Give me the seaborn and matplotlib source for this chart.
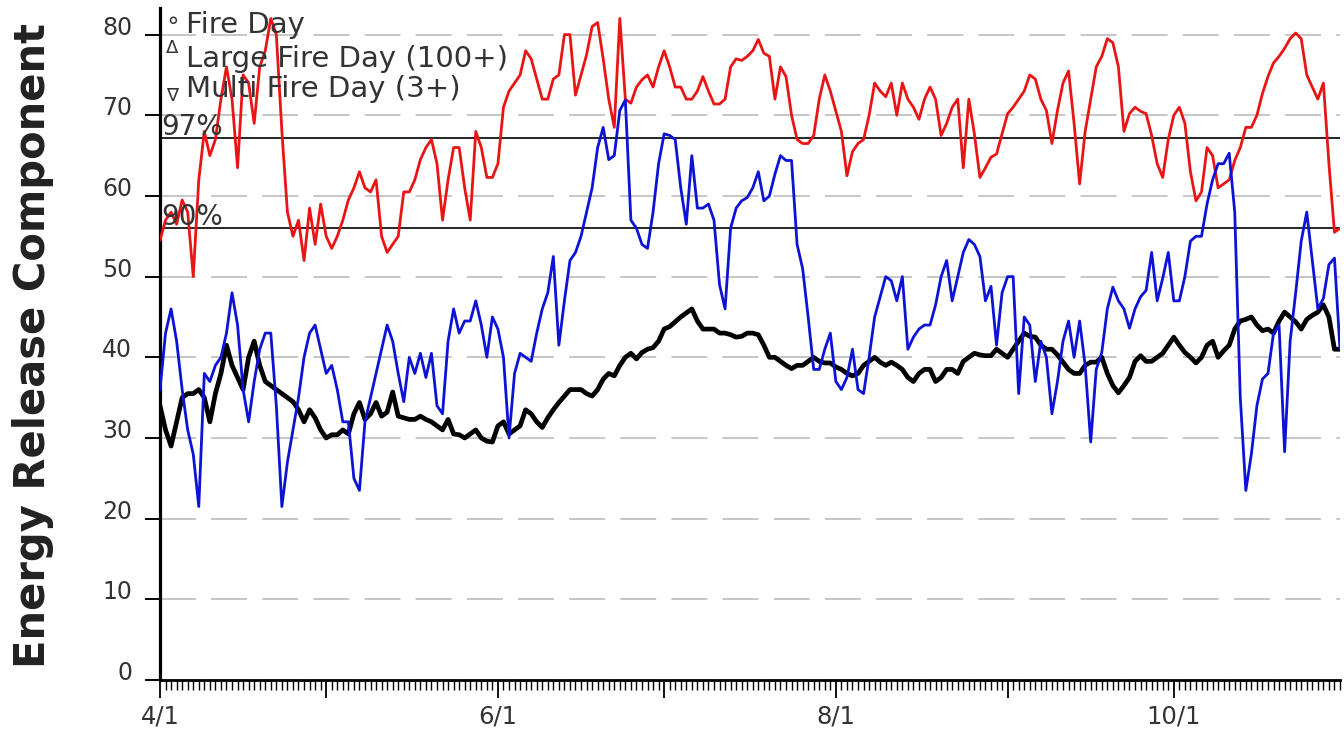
import numpy as np
import pandas as pd
import matplotlib
matplotlib.use("Agg")
import matplotlib.pyplot as plt
import matplotlib.dates as mdates
from matplotlib.ticker import FuncFormatter
import seaborn as sns

# ---------------- data ----------------
start_date = "2013-04-01"
end_date = "2013-10-31"

erc_max = [
    54.5, 57, 58, 56.5, 59.5, 58, 50, 62, 68, 65,
    67, 72, 76, 72, 63.5, 75, 74, 69, 76, 78,
    82, 80, 68, 58, 55, 57, 52, 58.5, 54, 59,
    55, 53.5, 55, 57, 59.5, 61, 63, 61, 60.5, 62,
    55, 53, 54, 55, 60.5, 60.5, 62, 64.5, 66, 67,
    64, 57, 62, 66, 66, 61, 57, 68, 66, 62.3,
    62.3, 64, 71, 73, 74, 75, 78, 77, 74.5, 72,
    72, 74.5, 75, 80, 80, 72.5, 75, 77.5, 81, 81.5,
    77, 72, 68.5, 82, 72, 71.5, 73.5, 74.4, 75, 73.5,
    76, 78, 76, 73.5, 73.5, 72, 72, 73, 74.8, 73,
    71.4, 71.4, 72, 76, 77, 76.8, 77.3, 78, 79.4, 77.7,
    77.3, 72, 76, 74.8, 70, 67, 66.5, 66.5, 67.5, 72,
    75, 73, 70.5, 68, 62.5, 65.5, 66.5, 67, 70, 74,
    73, 72.3, 74, 70, 74, 72, 71, 69.5, 72, 73.5,
    72, 67.5, 69, 71, 72, 63.5, 72, 67.7, 62.3, 63.5,
    64.8, 65.2, 67.7, 70.2, 71, 72, 73, 75, 74.5, 72,
    70.6, 66.5, 70.6, 74, 75.5, 69, 61.5, 68, 72, 76,
    77.3, 79.5, 79, 76, 68, 70.2, 71, 70.5, 70.2, 67.5,
    64, 62.3, 67, 70, 71, 69, 63, 59.4, 60.5, 66,
    65, 61, 61.5, 62, 64.4, 66, 68.5, 68.5, 70, 72.7,
    74.8, 76.5, 77.3, 78.3, 79.5, 80.2, 79.5, 75, 73.5, 72,
    74, 64, 55.5, 56,
]

erc_year = [
    36, 43, 46, 42, 36, 31, 28, 21.5, 38, 37,
    39, 40, 43, 48, 44, 36, 32, 37, 41, 43,
    43, 34, 21.5, 27, 31, 35, 40, 43, 44, 41,
    38, 39, 36, 32, 32, 25, 23.5, 32, 35, 38,
    41, 44, 42, 38, 34.5, 40, 38, 40.5, 37.5, 40.5,
    34, 33, 42, 46, 43, 44.5, 44.5, 47, 44, 40,
    45, 43.5, 40, 30, 38, 40.5, 40, 39.5, 43, 46,
    48, 52.5, 41.5, 47, 52, 53, 55, 58, 61, 66,
    68.5, 64.5, 65, 70.6, 71.9, 57, 56, 54, 53.5, 58,
    64, 67.7, 67.5, 67, 61, 56.5, 65, 58.5, 58.5, 59,
    57, 49, 46, 56, 58.5, 59.4, 59.8, 61, 63, 59.4,
    60, 62.7, 65, 64.4, 64.4, 54, 51, 45, 38.5, 38.5,
    41, 43, 37, 36, 37.5, 41, 36, 35.5, 40, 45,
    47.5, 50, 49.5, 47, 50, 41, 42.5, 43.5, 44, 44,
    46.5, 50, 52, 47, 50, 53, 54.6, 54, 52.5, 47,
    48.8, 41.5, 48, 50, 50, 35.5, 45, 44, 37, 42,
    40, 33, 37, 42, 44.5, 40, 44.5, 39, 29.5, 38.5,
    40.6, 46, 48.7, 47, 46, 43.6, 46, 47.5, 48.3, 53,
    47, 49.8, 53, 47, 47, 50, 54.4, 55, 55, 59,
    62, 64, 64, 65.3, 58, 35, 23.5, 28, 34, 37.3,
    38, 43, 44, 28.3, 42, 48, 54.4, 58, 52, 46,
    47.3, 51.5, 52.3, 41,
]

erc_avg = [
    34, 31, 29, 32, 35, 35.5, 35.5, 36, 35, 32,
    35.5, 38, 41.5, 39, 37.5, 36, 40, 42, 39, 37,
    36.5, 36, 35.5, 35, 34.5, 33.5, 32, 33.5, 32.5, 31,
    30, 30.4, 30.4, 31, 30.5, 33, 34.4, 32.3, 33, 34.4,
    32.7, 33.2, 35.7, 32.7, 32.5, 32.3, 32.3, 32.7, 32.3, 32,
    31.5, 31, 32.3, 30.5, 30.4, 30, 30.5, 31, 30, 29.6,
    29.5, 31.5, 32, 30.5, 31, 31.5, 33.5, 33, 32, 31.3,
    32.5, 33.5, 34.4, 35.2, 36, 36, 36, 35.5, 35.2, 36,
    37.3, 38, 37.7, 39, 40, 40.5, 39.8, 40.6, 41, 41.2,
    42, 43.5, 43.8, 44.4, 45, 45.5, 46, 44.5, 43.5, 43.5,
    43.5, 43, 43, 42.8, 42.5, 42.6, 43, 43, 42.8, 41.5,
    40, 40, 39.5, 39, 38.6, 39, 39, 39.5, 40, 39.5,
    39.3, 39.3, 38.8, 38.5, 38, 37.7, 38, 39, 39.5, 40,
    39.4, 39, 39.4, 39, 38.5, 37.5, 37, 38, 38.5, 38.5,
    37, 37.5, 38.5, 38.5, 38, 39.5, 40, 40.5, 40.3, 40.2,
    40.2, 41, 40.5, 40, 41, 42, 43, 42.6, 42.5, 41.5,
    41, 41, 40.3, 39.4, 38.5, 38, 38, 39, 39.4, 39.4,
    40, 38, 36.5, 35.6, 36.5, 37.5, 39.5, 40.2, 39.5, 39.5,
    40, 40.5, 41.5, 42.5, 41.5, 40.6, 40, 39.3, 40, 41.5,
    42, 40, 40.8, 41.5, 43.5, 44.5, 44.7, 45, 44, 43.3,
    43.5, 43, 44.5, 45.6, 45, 44.4, 43.5, 44.7, 45.2, 45.6,
    46.5, 45, 41, 41,
]

pct_values = [67.2, 56.0]
pct_labels = ["97%", "90%"]
y_ticks = [0, 10, 20, 30, 40, 50, 60, 70, 80]
labelled_months = {4: "4/1", 6: "6/1", 8: "8/1", 10: "10/1"}
legend_symbols = ["\u2218", "\u0394", "\u2207"]
legend_texts = ["Fire Day", "Large Fire Day (100+)", "Multi Fire Day (3+)"]
ylabel_text = "Energy Release Component"

# ---------------- figure ----------------
dates = pd.date_range(start_date, end_date, freq="D")
assert len(dates) == len(erc_max) == len(erc_year) == len(erc_avg)
df = pd.DataFrame({"date": dates, "max": erc_max, "year": erc_year, "avg": erc_avg})

sns.set_style("white")
plt.rcParams["font.family"] = ["DejaVu Sans"]

W, H = 1344, 732
fig = plt.figure(figsize=(W / 100, H / 100), dpi=100)
fig.patch.set_facecolor("white")
ax = fig.add_axes([160 / W, (H - 680) / H, 1180 / W, 672 / H])
ax.set_facecolor("white")

def fx(x):
    return x / W

def fy(y):
    return 1 - y / H

ax.set_axisbelow(True)
ax.yaxis.grid(True, linestyle=(0, (18.5, 7.8)), linewidth=1.4, color="#c6c6c6")
ax.xaxis.grid(False)

for v in pct_values:
    ax.axhline(v, color="black", linewidth=1.2, zorder=2)

sns.lineplot(data=df, x="date", y="avg", ax=ax, color="black", linewidth=3.4, zorder=3)
sns.lineplot(data=df, x="date", y="max", ax=ax, color="#ea1414", linewidth=2.0, zorder=4)
sns.lineplot(data=df, x="date", y="year", ax=ax, color="#0c12d6", linewidth=2.0, zorder=5)

ax.set_xlim(dates[0], dates[-1])
ax.set_ylim(0, 83.3)
ax.set_xlabel("")
ax.set_ylabel("")

for s in ["top", "right"]:
    ax.spines[s].set_visible(False)
ax.spines["left"].set_linewidth(2.3)
ax.spines["bottom"].set_linewidth(2.0)
ax.spines["left"].set_color("black")
ax.spines["bottom"].set_color("black")

ax.xaxis.set_major_locator(mdates.MonthLocator(bymonthday=1))
ax.xaxis.set_minor_locator(mdates.DayLocator())
ax.xaxis.set_major_formatter(FuncFormatter(
    lambda v, pos: labelled_months.get(mdates.num2date(v).month, "")))
ax.tick_params(axis="x", which="major", direction="out", length=13, width=1.3,
               pad=5, labelsize=17.5, labelcolor="#333333", color="black", bottom=True)
ax.tick_params(axis="x", which="minor", direction="out", length=7.5, width=1.0,
               color="black", bottom=True)

ax.set_yticks(y_ticks)
ax.tick_params(axis="y", which="major", direction="out", length=11, width=1.4,
               pad=9, labelsize=17, labelcolor="#333333", color="black", left=True)
for lbl in ax.get_yticklabels():
    lbl.set_verticalalignment("baseline")

# percentile labels
for v, lab in zip(pct_values, pct_labels):
    ax.text(dates[0] + pd.Timedelta(hours=6), v + 0.35, lab, fontsize=20,
            color="#333333", ha="left", va="baseline", zorder=6)

# legend-like annotations
sym_pos = [(173, 28), (172, 53), (172, 100)]
sym_size = [17, 13, 13]
text_base = [33, 67, 97]
for sym, (sx, sy), ss, txt, tb in zip(legend_symbols, sym_pos, sym_size, legend_texts, text_base):
    fig.text(fx(sx), fy(sy), sym, fontsize=ss, color="#333333", ha="center", va="baseline")
    fig.text(fx(186), fy(tb), txt, fontsize=21, color="#333333", ha="left", va="baseline")

# y label
fig.text(fx(33), fy(346), ylabel_text, rotation=90, fontsize=30, fontweight="bold",
         color="#222222", ha="center", va="center")

fig.savefig("out.png", dpi=100, facecolor="white")
